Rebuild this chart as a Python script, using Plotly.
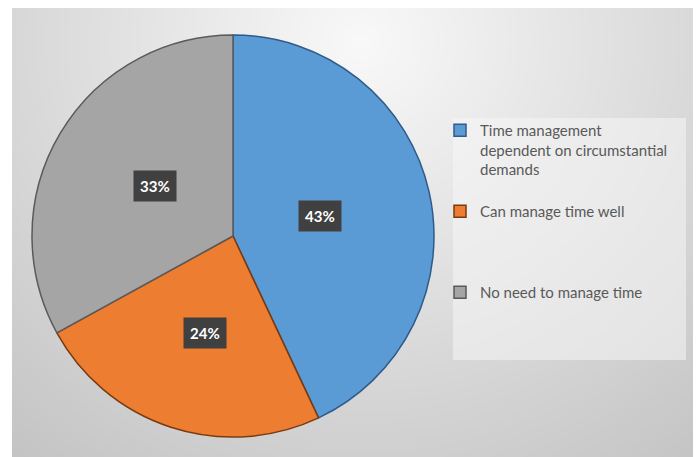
import base64, struct, zlib
import numpy as np
import plotly.graph_objects as go

# ---- data ----
labels = ["Time management<br>dependent on circumstantial<br>demands<br> ",
          "Can manage time well<br> <br> <br> ",
          "No need to manage time"]
values = [43, 24, 33]
pct_text = ["43%", "24%", "33%"]
colors = ["#5B9BD5", "#ED7D31", "#A5A5A5"]
edge_colors = ["#2F5B8A", "#7A3A10", "#5A5A5A"]

W, H = 699, 457

# ---- background radial gradient as PNG data URI ----
def png_uri(arr):
    h, w, _ = arr.shape
    raw = b"".join(b"\x00" + arr[i].tobytes() for i in range(h))
    def chunk(t, d):
        c = struct.pack(">I", len(d)) + t + d
        return c + struct.pack(">I", zlib.crc32(t + d) & 0xffffffff)
    png = b"\x89PNG\r\n\x1a\n" + chunk(b"IHDR", struct.pack(">IIBBBBB", w, h, 8, 2, 0, 0, 0)) \
        + chunk(b"IDAT", zlib.compress(raw, 9)) + chunk(b"IEND", b"")
    return "data:image/png;base64," + base64.b64encode(png).decode()

bx0, by0, bx1, by1 = 12, 8, 693, 457
s = 3
gw, gh = (bx1 - bx0) // s, (by1 - by0) // s
yy, xx = np.mgrid[0:gh, 0:gw]
px = bx0 + xx * s
py = by0 + yy * s
d = np.sqrt(((px - 360) / 1.0) ** 2 + ((py - 40) / 0.95) ** 2)
v = np.clip(249 - 0.095 * d, 185, 250).astype(np.uint8)
img = np.stack([v, v, v], axis=-1)
bg_uri = png_uri(img)

# ---- pie geometry ----
cx, cy, r = 233, 236, 201
dom_x = [(cx - r) / W, (cx + r) / W]
dom_y = [1 - (cy + r) / H, 1 - (cy - r) / H]

fig = go.Figure(go.Pie(
    labels=labels, values=values, sort=False, direction="clockwise", rotation=0,
    marker=dict(colors=colors, line=dict(color=edge_colors, width=1.5)),
    textinfo="none", hoverinfo="percent",
    domain=dict(x=dom_x, y=dom_y),
))

# percentage labels in dark boxes
label_pos = [(320, 216), (205, 333), (155, 186)]
annotations = []
for t, (ax_, ay_) in zip(pct_text, label_pos):
    annotations.append(dict(
        x=ax_ / W, y=1 - ay_ / H, xref="paper", yref="paper", text="<b>%s</b>" % t,
        showarrow=False, font=dict(family="Lato", size=15, color="white"),
        bgcolor="#404040", borderpad=6, xanchor="center", yanchor="middle"))

fig.update_layout(
    width=W, height=H, margin=dict(l=0, r=0, t=0, b=0),
    paper_bgcolor="white", plot_bgcolor="rgba(0,0,0,0)",
    images=[dict(source=bg_uri, xref="paper", yref="paper", x=bx0 / W, y=1 - by0 / H,
                 sizex=(bx1 - bx0) / W, sizey=(by1 - by0) / H, sizing="stretch",
                 xanchor="left", yanchor="top", layer="below")],
    shapes=[dict(type="rect", xref="paper", yref="paper",
                 x0=453 / W, x1=686 / W, y0=1 - 360 / H, y1=1 - 118 / H,
                 fillcolor="rgba(246,246,246,0.55)", line=dict(width=0), layer="below")],
    legend=dict(x=440 / W, y=1 - 114 / H, xanchor="left", yanchor="top",
                bgcolor="rgba(0,0,0,0)", valign="top", tracegroupgap=0,
                font=dict(family="Lato", size=15, color="#595959"),
                itemwidth=30),
    annotations=annotations,
)

fig.write_html("out.html")
